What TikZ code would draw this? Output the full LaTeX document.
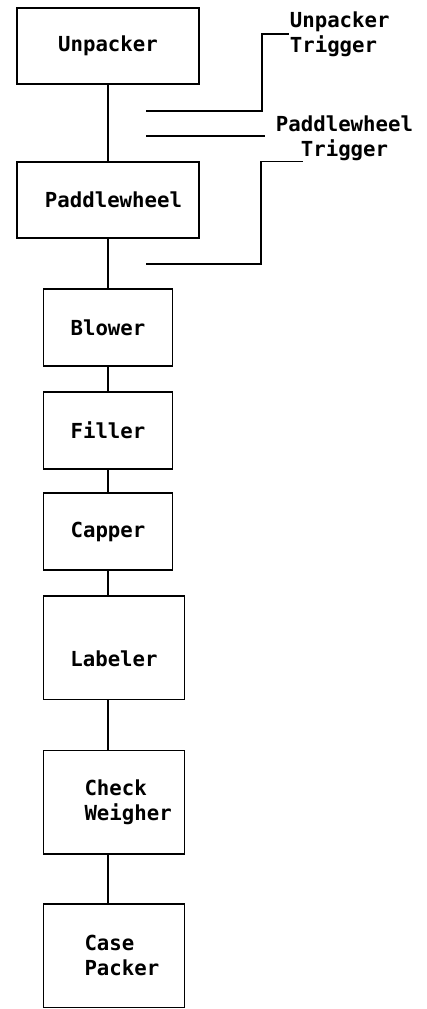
\documentclass[tikz,border=0pt]{standalone}
\usepackage{fontspec}
\setmonofont{DejaVu Sans Mono}
\usetikzlibrary{positioning}
\hfuzz=60pt

\begin{document}
\begin{tikzpicture}
    [x=1pt,y=-1pt,line width=1.8pt,
     font=\ttfamily\bfseries\fontsize{20.7}{25}\selectfont,
     stage/.style={draw,outer sep=0pt,inner sep=0pt,minimum width=129pt,minimum height=77pt},
     wide/.style={stage,minimum width=182pt,minimum height=76pt},
     tall/.style={stage,minimum width=141pt,minimum height=103.5pt},
     twoline/.style={text width=59pt,align=left},
     trig/.style={inner sep=0pt}]
    \useasboundingbox (0,0) rectangle (426,1009);
    \node (unp) [wide,anchor=north west] at (17,8) {Unpacker};
    \node (pad) [wide,below=78pt of unp] {\hspace*{11pt}Paddlewheel};
    \node (blo) [stage,below=51pt of pad] {Blower};
    \node (fil) [stage,below=26pt of blo] {Filler};
    \node (cap) [stage,below=24pt of fil] {Capper};
    \node (lab) [tall,below=26pt of cap.south west,anchor=north west,
      text height=38pt,text depth=0pt] {Labeler};
    \node (chk) [tall,twoline,below=51pt of lab] {Check\\Weigher};
    \node (cas) [tall,twoline,below=50pt of chk] {Case\\Packer};

    \foreach \a/\b in {unp/pad,pad/blo,blo/fil,fil/cap} {
      \draw (\a) -- (\b);
    }
    \foreach \a/\b in {cap/lab,lab/chk,chk/cas} {
      \draw (\a.south -| cap.south) -- (\b.north -| cap.south);
    }

    % trigger lines
    \node (utrig) [trig,align=left,anchor=west] at (289,34) {Unpacker\\Trigger};
    \node (ptrig) [trig,align=center] at (344.5,138) {Paddlewheel\\Trigger};
    \coordinate (ua) at (146,111);
    \coordinate (pa) at (146,136);
    \coordinate (pb) at (146,264);
    \draw (ua) -- ++(116,0) |- (utrig.west);
    \draw (pa) -- ++(119,0);
    \draw (pb) -- ++(115,0) |- ([xshift=-42pt]ptrig.south);
\end{tikzpicture}
\end{document}
